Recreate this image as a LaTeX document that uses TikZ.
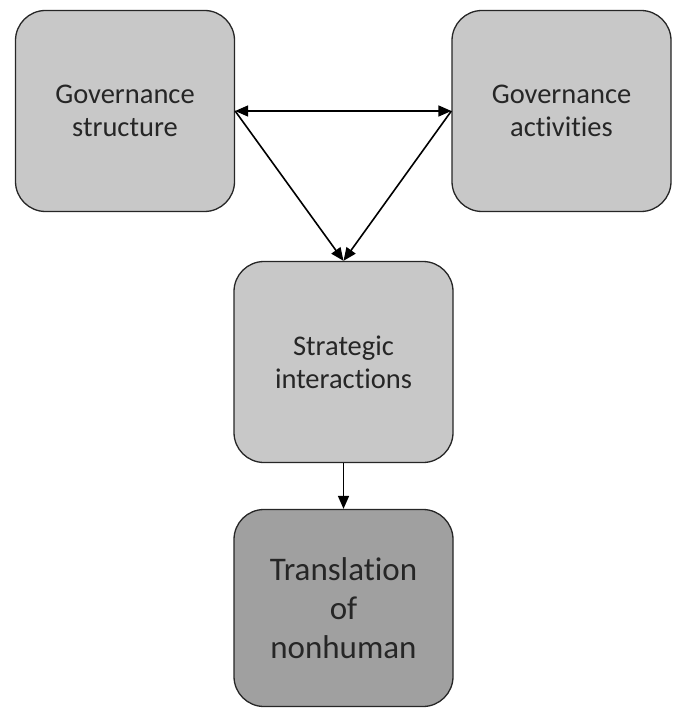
\documentclass[tikz,border=0pt]{standalone}
\usepackage{fontspec}
\setmainfont[Ligatures={NoCommon}]{Carlito}
\usetikzlibrary{arrows.meta}
\definecolor{boxlight}{HTML}{C8C8C8}
\definecolor{boxdark}{HTML}{A0A0A0}
\begin{document}
\begin{tikzpicture}[x=1pt,y=-1pt,
  box/.style={draw=black!85, line width=1.3pt, rounded corners=30pt, fill=boxlight,
    minimum width=219pt, minimum height=201pt, align=center, inner sep=0pt,
    font=\fontsize{28.5}{33}\selectfont, text=black!85},
  darkbox/.style={box, fill=boxdark, font=\fontsize{33}{39}\selectfont},
  conn/.style={line width=1.6pt, -{Triangle[length=13pt,width=11pt]}},
  conn2/.style={line width=1.6pt, {Triangle[length=13pt,width=11pt]}-{Triangle[length=13pt,width=11pt]}}]
\useasboundingbox (0,0) rectangle (676,708);
\node[box] (gs) at (125,111) {Governance\\structure};
\node[box] (ga) at (561.5,111) {Governance\\activities};
\node[box] (si) at (343.5,362) {Strategic\\interactions};
\node[darkbox, minimum height=197pt] (tn) at (343.5,608) {Translation\\of\\nonhuman};
\draw[conn2] (gs.east) -- (ga.west);
\draw[conn] (gs.east) -- (si.north);
\draw[conn] (ga.west) -- (si.north);
\draw[conn] (si.south) -- (tn.north);
\end{tikzpicture}
\end{document}
